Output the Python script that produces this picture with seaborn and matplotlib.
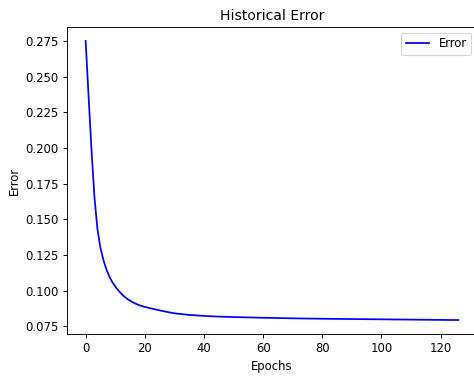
import matplotlib
matplotlib.use('Agg')
import matplotlib.pyplot as plt
import seaborn as sns
import pandas as pd

# error values
epochs = [0, 1, 2, 3, 4, 5, 6, 7, 8, 9, 10, 11, 12, 13, 14, 15, 16, 17, 18, 19, 20,
          22, 25, 28, 30, 35, 40, 45, 50, 60, 70, 80, 90, 100, 110, 120, 126]
error = [0.275, 0.236, 0.198, 0.165, 0.143, 0.130, 0.1215, 0.115, 0.110, 0.106, 0.103,
         0.1003, 0.0980, 0.0960, 0.0943, 0.0930, 0.0918, 0.0908, 0.0899, 0.0892, 0.0886,
         0.0876, 0.0862, 0.0849, 0.0841, 0.0830, 0.0823, 0.0818, 0.0815, 0.0810, 0.0806,
         0.0803, 0.0801, 0.0799, 0.0797, 0.0795, 0.0794]

df = pd.DataFrame({'Epochs': epochs, 'Error': error})

dpi = 84
fig = plt.figure(figsize=(474 / dpi, 377 / dpi), dpi=dpi)
ax = fig.add_axes([67 / 474, 43 / 377, 410 / 474, 307 / 377])
sns.lineplot(data=df, x='Epochs', y='Error', color='blue', label='Error', ax=ax)
ax.set_title('Historical Error')
ax.set_xlabel('Epochs')
ax.set_ylabel('Error')
ax.legend(loc='upper right')
fig.savefig('out.png', dpi=dpi)
